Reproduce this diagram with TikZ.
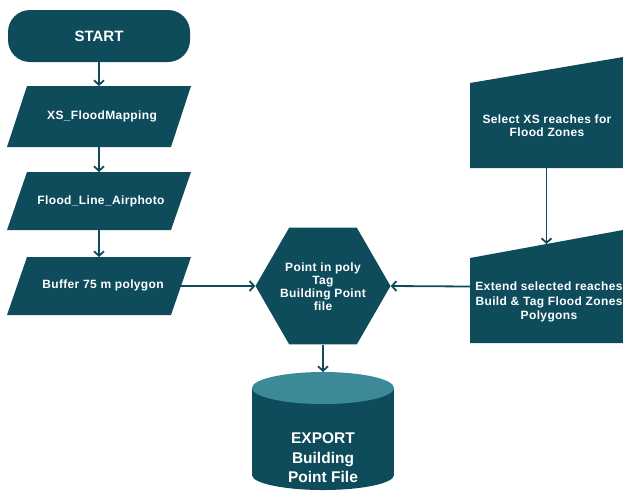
\documentclass[tikz,border=0pt]{standalone}
\usepackage{fontspec}
\setmainfont{Liberation Sans}
\newfontfamily\spfont[LetterSpace=3]{Liberation Sans}
\usetikzlibrary{shapes.geometric,arrows.meta,backgrounds}
\definecolor{dk}{RGB}{14,76,92}
\definecolor{lt}{RGB}{60,138,151}
\tikzset{
  box/.style={inner sep=0pt, outer sep=0pt, draw=none},
  txt/.style={text=white, font=\spfont\bfseries\fontsize{12}{13}\selectfont, align=center, inner sep=0pt},
  bigtxt/.style={text=white, font=\bfseries\fontsize{15.5}{19.5}\selectfont, align=center, inner sep=0pt},
  conn/.style={draw=dk, line width=1.8pt, -{Straight Barb[length=4.5pt,width=10pt]}},
}
\begin{document}
\begin{tikzpicture}[x=1pt,y=-1pt]
\useasboundingbox (0,0) rectangle (623,491);
% left column
\node[box, minimum width=182pt, minimum height=52pt] (start) at (99,36) {};
\node[bigtxt, font=\bfseries\fontsize{15}{19}\selectfont] (startt) at (99,36) {START};
\node[box, minimum width=184pt, minimum height=61pt] (xs) at (99,116.5) {};
\node[txt] (xst) at (102,116) {XS\_FloodMapping};
\node[box, minimum width=184pt, minimum height=58pt] (flood) at (99,201) {};
\node[txt] (floodt) at (101,201) {Flood\_Line\_Airphoto};
\node[box, minimum width=184pt, minimum height=58pt] (buf) at (99,286) {};
\node[txt] (buft) at (103,285) {Buffer 75 m polygon};
% hexagon
\node[regular polygon, regular polygon sides=6, minimum size=135pt, fill=dk, inner sep=0pt] (hex) at (323,286) {};
\node[txt] (hext) at (323,287) {Point in poly\\Tag\\Building Point\\file};
% cylinder
\node[box, minimum width=142pt, minimum height=118pt] (exp) at (323,431) {};
\node[bigtxt] (expt) at (323,458) {EXPORT\\Building\\Point File};
% right column
\node[box, minimum width=153pt, minimum height=111pt] (sel) at (546.5,112.5) {};
\node[txt] (selt) at (547,126) {Select XS reaches for\\Flood Zones};
\node[box, minimum width=153pt, minimum height=113pt] (ext) at (546.5,286.5) {};
\node[txt, font=\spfont\bfseries\fontsize{12}{14.5}\selectfont] (extt) at (549,302) {Extend selected reaches\\Build \& Tag Flood Zones\\Polygons};
\begin{scope}[on background layer]
  \fill[dk, rounded corners=22pt] (start.north west) rectangle (start.south east);
  \foreach \n in {xs,flood,buf}{
    \fill[dk] ([xshift=20pt]\n.north west) -- (\n.north east) -- ([xshift=-20pt]\n.south east) -- (\n.south west) -- cycle;
  }
  \fill[dk] ([yshift=-26pt]sel.north west) -- (sel.north east) -- (sel.south east) -- (sel.south west) -- cycle;
  \fill[dk] ([yshift=-28pt]ext.north west) -- (ext.north east) -- (ext.south east) -- (ext.south west) -- cycle;
  \fill[dk] (252,388) rectangle (394,475);
  \fill[dk] (323,475) ellipse [x radius=71, y radius=15];
  \fill[lt] (323,388) ellipse [x radius=71, y radius=16];
\end{scope}
% connectors
\draw[conn] (start.south) -- (xs.north);
\draw[conn] (xs.south) -- (flood.north);
\draw[conn] (flood.south) -- (buf.north);
\draw[conn] ([xshift=-14pt]buf.east) -- (hex.west);
\draw[conn] (ext.west) -- (hex.east);
\draw[conn] (sel.south) -- ([yshift=-14pt]ext.north);
\draw[conn] (hex.south) -- (exp.north);
\end{tikzpicture}
\end{document}
